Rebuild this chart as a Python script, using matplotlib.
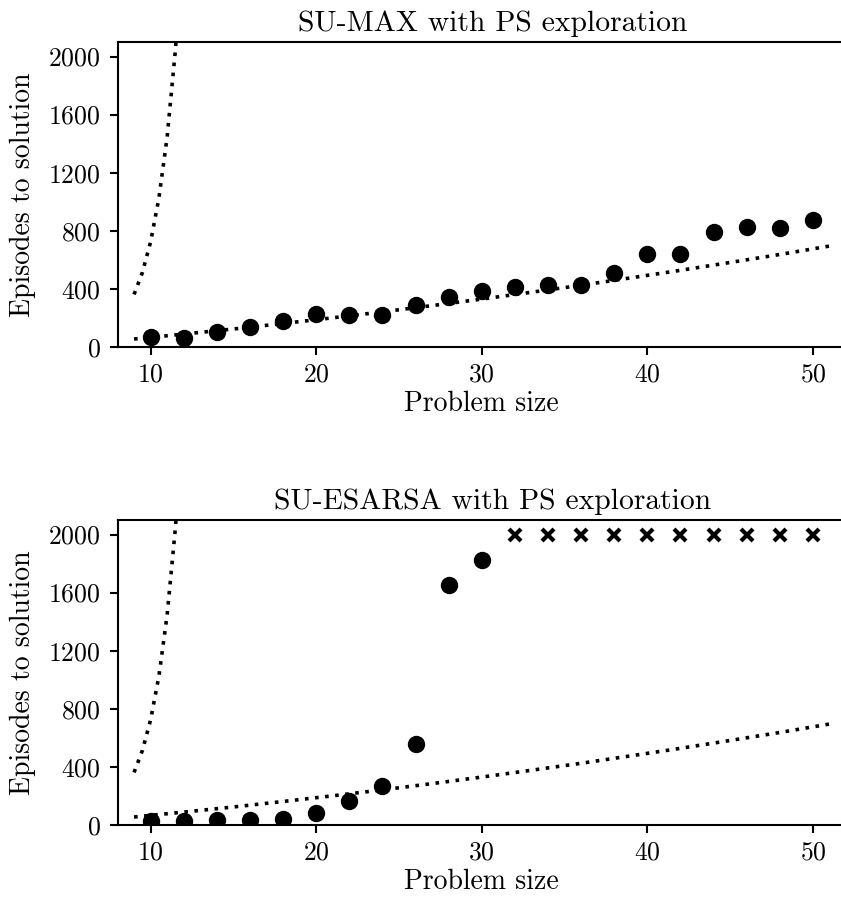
import matplotlib
matplotlib.use("Agg")
import matplotlib.pyplot as plt

plt.rcParams.update({
    "font.family": "serif",
    "font.serif": ["cmr10", "DejaVu Serif"],
    "mathtext.fontset": "cm",
    "axes.formatter.use_mathtext": True,
    "axes.unicode_minus": False,
})

sizes = [10, 12, 14, 16, 18, 20, 22, 24, 26, 28, 30, 32, 34, 36, 38, 40, 42, 44, 46, 48, 50]
max_episodes = [68, 65, 105, 138, 180, 228, 218, 222, 292, 345, 386, 414, 430, 428, 510, 642, 642, 790, 825, 820, 876]

esarsa_sizes = [10, 12, 14, 16, 18, 20, 22, 24, 26, 28, 30]
esarsa_episodes = [29, 29, 34, 36, 41, 82, 167, 269, 559, 1655, 1826]
fail_sizes = [32, 34, 36, 38, 40, 42, 44, 46, 48, 50]
fail_episodes = [2000, 2000, 2000, 2000, 2000, 2000, 2000, 2000, 2000, 2000]

steep_x = [9, 9.5, 10, 10.5, 11, 11.5, 12]
steep_y = [362, 512, 724, 1024, 1448, 2048, 2896]

bound_x = [9, 12, 15, 18, 21, 24, 27, 30, 33, 36, 39, 42, 45, 48, 51]
bound_y = [55, 89, 124, 162, 201, 242, 285, 330, 377, 425, 476, 528, 582, 637, 695]

titles = ["SU-MAX with PS exploration", "SU-ESARSA with PS exploration"]
yticks = [0, 400, 800, 1200, 1600, 2000]
xticks = [10, 20, 30, 40, 50]

W, H = 841, 905
fig = plt.figure(figsize=(W / 100, H / 100), dpi=100)
left = 117.5 / W
right_px = 846
ax1 = fig.add_axes([left, 1 - 347 / H, (right_px - 117.5) / W, (347 - 42) / H])
ax2 = fig.add_axes([left, 1 - 825 / H, (right_px - 117.5) / W, (825 - 520) / H])

dot_style = dict(color="black", lw=2.6, dashes=(1, 1.8), dash_capstyle="butt")
title_x = (492.5 - 117.5) / (right_px - 117.5)

for i, ax in enumerate([ax1, ax2]):
    ax.plot(steep_x, steep_y, **dot_style)
    ax.plot(bound_x, bound_y, **dot_style)
    if i == 0:
        ax.plot(sizes, max_episodes, "o", color="black", ms=11.5, ls="none")
    else:
        ax.plot(esarsa_sizes, esarsa_episodes, "o", color="black", ms=11.5, ls="none")
        ax.plot(fail_sizes, fail_episodes, "x", color="black", ms=9, mew=3, ls="none")
    ax.set_xlim(8, 52)
    ax.set_ylim(0, 2100)
    ax.set_xticks(xticks)
    ax.set_yticks(yticks)
    ax.tick_params(labelsize=18.5, width=1.5, length=6)
    ax.tick_params(axis="y", pad=6)
    ax.tick_params(axis="x", pad=5)
    for s in ax.spines.values():
        s.set_linewidth(1.5)
    ax.set_title(titles[i], fontsize=21.3, pad=8, x=title_x)
    ax.set_xlabel("Problem size", fontsize=20, labelpad=3)
    ax.set_ylabel("Episodes to solution", fontsize=20, labelpad=9)

fig.savefig("out.png", dpi=100)
